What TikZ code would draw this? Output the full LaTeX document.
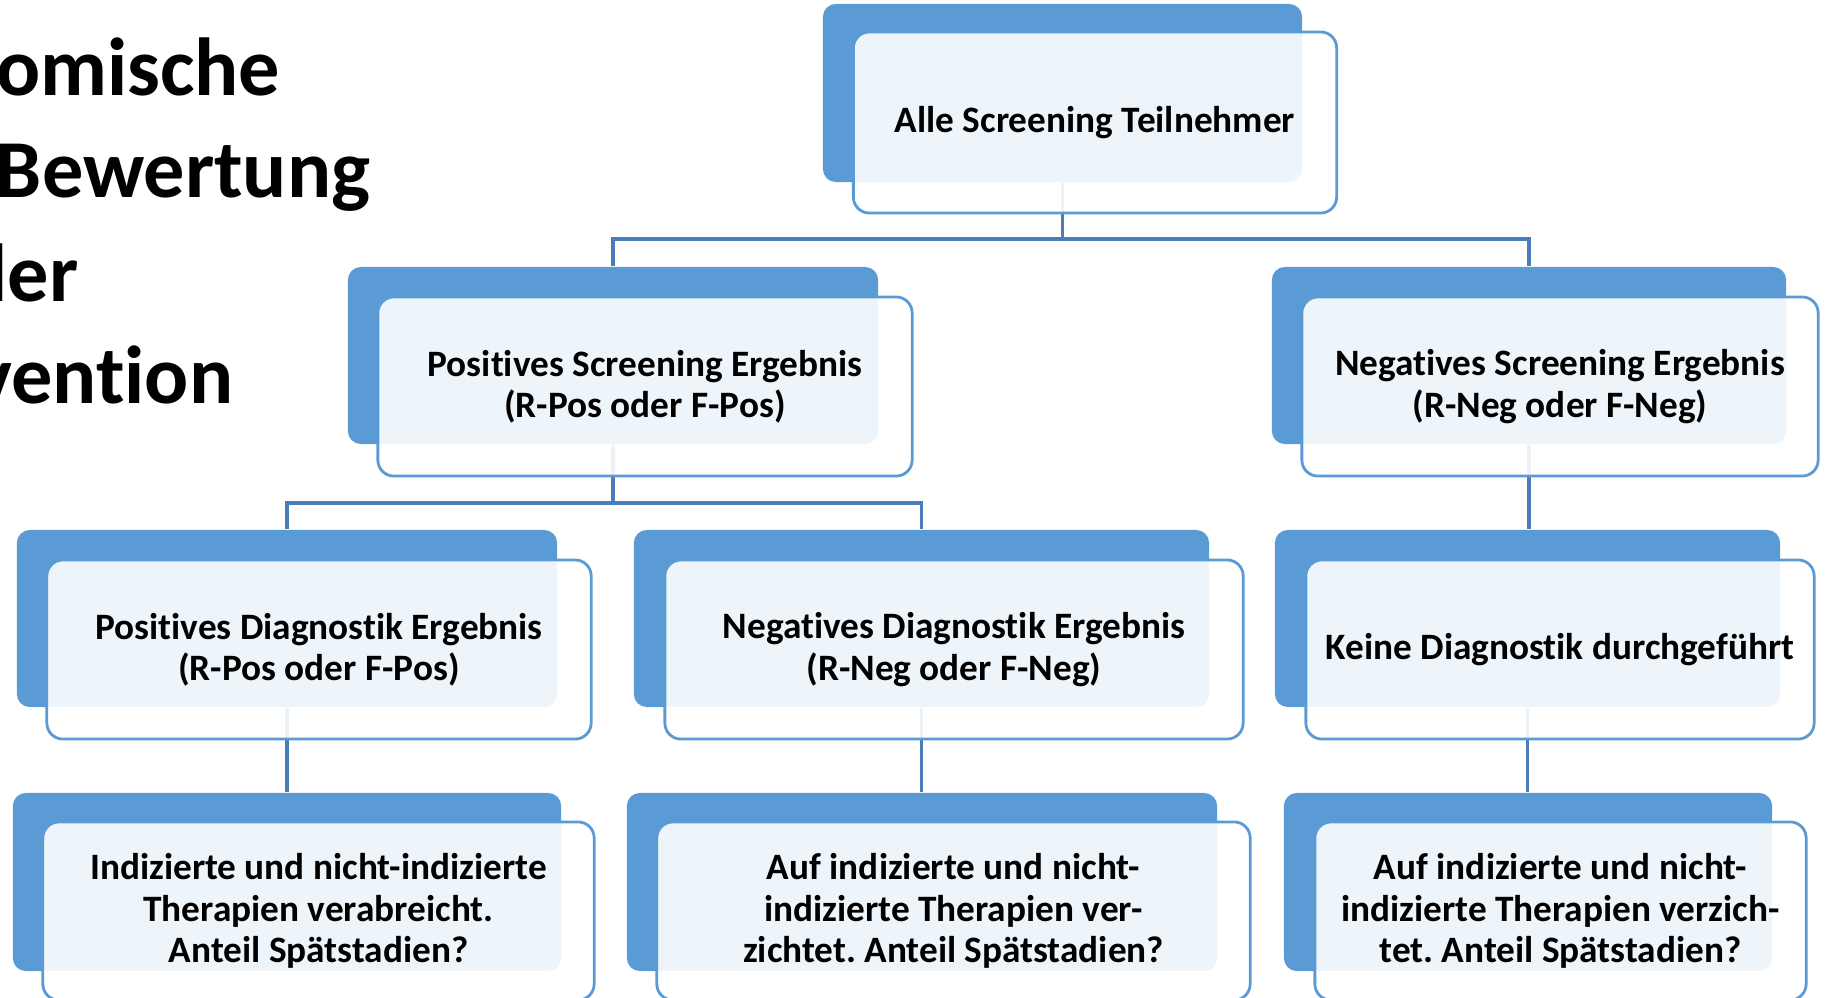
\documentclass[tikz,border=0pt]{standalone}
\usepackage{fontspec}
\setmainfont{Carlito}[Ligatures=NoCommon]
\frenchspacing
\definecolor{backblue}{HTML}{5B9BD5}
\definecolor{lineblue}{HTML}{4A7EBB}
\newcommand{\boxtextfont}{\fontsize{10.6}{11.8}\selectfont\bfseries}
\newcommand{\slidetitlefont}{\fontsize{23.4}{29}\selectfont\bfseries}
\tikzset{
  backbox/.style={rectangle, rounded corners=0.13cm, fill=backblue, inner sep=0pt},
  frontbox/.style={rectangle, rounded corners=0.16cm, draw=backblue, line width=0.8pt,
    fill=white, fill opacity=0.9, text opacity=1, inner sep=0pt, align=center, font=\boxtextfont},
  conn/.style={draw=lineblue, line width=0.9pt},
  titleline/.style={anchor=base east, inner sep=0pt, font=\slidetitlefont}
}
\begin{document}
\begin{tikzpicture}[x=0.01cm, y=-0.01cm]
  \useasboundingbox (0,0) rectangle (1828,997);
  \clip (0,0) rectangle (1828,997);

  % title (cut at the left edge)
  \node[titleline] (tl1) at (281,96) {omische};
  \node[titleline] (tl2) at (371,198) {Bewertung};
  \node[titleline] (tl3) at (79,301) {ler};
  \node[titleline] (tl4) at (234,403) {vention};

  % back boxes
  \node[backbox, minimum width=4.79cm, minimum height=1.78cm] (allb) at (1062.5,93) {};
  \node[backbox, minimum width=5.30cm, minimum height=1.77cm] (posb) at (613,355.5) {};
  \node[backbox, minimum width=5.14cm, minimum height=1.77cm] (negb) at (1529,355.5) {};
  \node[backbox, minimum width=5.40cm, minimum height=1.77cm] (pdiagb) at (287,618.5) {};
  \node[backbox, minimum width=5.75cm, minimum height=1.77cm] (ndiagb) at (921.5,618.5) {};
  \node[backbox, minimum width=5.05cm, minimum height=1.77cm] (kdiagb) at (1527.5,618.5) {};
  \node[backbox, minimum width=5.48cm, minimum height=1.78cm] (pthb) at (287,882) {};
  \node[backbox, minimum width=5.90cm, minimum height=1.78cm] (nthb) at (922,882) {};
  \node[backbox, minimum width=4.88cm, minimum height=1.78cm] (kthb) at (1528,882) {};

  % connectors
  \coordinate (bus1) at (0,239);
  \coordinate (bus2) at (0,503);
  \draw[conn] (allb.south) -- (allb.south |- bus1) -| (posb.north);
  \draw[conn] (allb.south |- bus1) -| (negb.north);
  \draw[conn] (posb.south) -- (posb.south |- bus2) -| (pdiagb.north);
  \draw[conn] (posb.south |- bus2) -| (ndiagb.north);
  \draw[conn] (negb.south) -- (negb.south |- kdiagb.north);
  \draw[conn] (pdiagb.south) -- (pdiagb.south |- pthb.north);
  \draw[conn] (ndiagb.south) -- (ndiagb.south |- nthb.north);
  \draw[conn] (kdiagb.south) -- (kdiagb.south |- kthb.north);

  % front boxes with text
  \node[frontbox, minimum width=4.83cm, minimum height=1.81cm] (all) at (1095,122.5)
    {Alle Screening Teilnehmer};
  \node[frontbox, minimum width=5.34cm, minimum height=1.79cm] (pos) at (645,386.5)
    {Positives Screening Ergebnis\\(R-Pos oder F-Pos)};
  \node[frontbox, minimum width=5.16cm, minimum height=1.79cm] (neg) at (1560,386.5)
    {Negatives Screening Ergebnis\\(R-Neg oder F-Neg)};
  \node[frontbox, minimum width=5.44cm, minimum height=1.79cm] (pdiag) at (319,649.5)
    {Positives Diagnostik Ergebnis\\(R-Pos oder F-Pos)};
  \node[frontbox, minimum width=5.78cm, minimum height=1.79cm] (ndiag) at (954,649.5)
    {Negatives Diagnostik Ergebnis\\(R-Neg oder F-Neg)};
  \node[frontbox, minimum width=5.08cm, minimum height=1.79cm] (kdiag) at (1560,649.5)
    {Keine Diagnostik durchgeführt};
  \node[frontbox, minimum width=5.51cm, minimum height=1.78cm] (pth) at (318.5,911)
    {Indizierte und nicht-indizierte\\Therapien verabreicht.\\Anteil Spätstadien?};
  \node[frontbox, minimum width=5.93cm, minimum height=1.78cm] (nth) at (953.5,911)
    {Auf indizierte und nicht-\\indizierte Therapien ver-\\zichtet. Anteil Spätstadien?};
  \node[frontbox, minimum width=4.91cm, minimum height=1.78cm] (kth) at (1560.5,911)
    {Auf indizierte und nicht-\\indizierte Therapien verzich-\\tet. Anteil Spätstadien?};
\end{tikzpicture}
\end{document}
